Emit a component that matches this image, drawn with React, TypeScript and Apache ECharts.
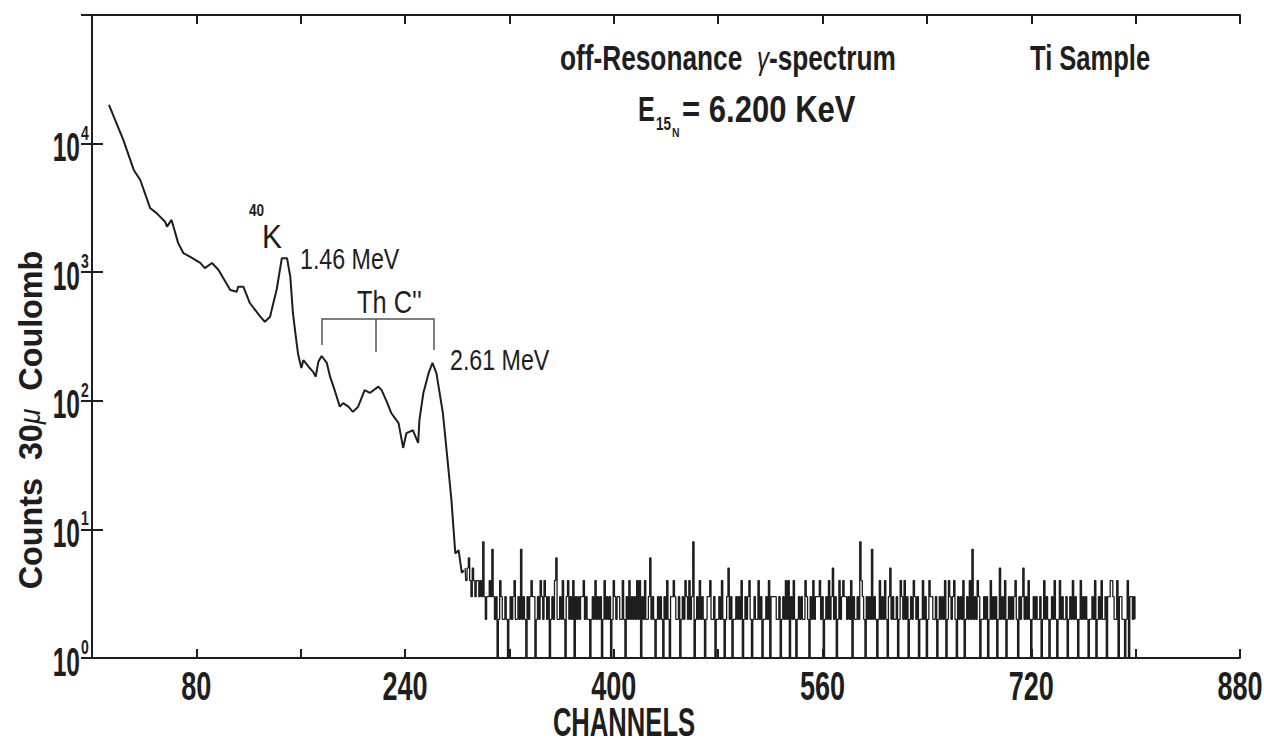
import React, { useEffect, useRef } from "react";
import * as echarts from "echarts";

// Smooth low-channel part of the spectrum (channel, counts)
const lowChannels = [
  13, 24, 32, 37, 44.5, 49.5, 56, 57.5, 61, 66, 70, 75, 83, 86.5, 92, 97, 106, 111, 112, 116,
  121, 129, 132.5, 136.5, 139, 141.5, 145.5, 149.5, 152, 154, 156, 158, 160.5, 162, 166, 169.5,
  171.5, 173.5, 176, 180, 182.5, 186, 190, 192.5, 196.5, 200, 204, 209, 213, 219.5, 222, 226,
  229.5, 235, 238.5, 241, 246, 250, 251, 254, 258, 261, 264, 269, 273, 275.5, 277, 278.5, 281,
  283.5, 285,
];
const lowCounts = [
  20000, 10700, 6240, 5210, 3160, 2880, 2470, 2260, 2550, 1690, 1410, 1320, 1180, 1075, 1180,
  1040, 727, 705, 771, 771, 576, 451, 412, 451, 576, 727, 1283, 1283, 923, 482, 330, 230, 180,
  207, 184, 168, 154, 201, 223, 197, 154, 121, 90, 96, 90, 82, 90, 121, 115, 129, 121, 98, 80,
  67, 43, 56, 59, 47, 71, 115, 164, 197, 164, 80, 31, 17, 10.5, 6.5, 6.9, 4.6, 4.8,
];

// Background region: one count per channel, channels 286 … 800
const noiseStartChannel = 286;
const noiseCountsText =
  "5456435434" + "4343832334" + "3732312432" + "2321232342" + "2327232132" +
  "3433123243" + "2432312324" + "6223242134" + "2324132323" + "3423221232" +
  "4232312423" + "2312432332" + "2421324232" + "3242413242" + "2362321232" +
  "3213242133" + "4322312324" + "3242381232" + "4232123342" + "2312232421" +
  "2352312232" + "3241232342" + "1232242312" + "2324133332" + "2312324241" +
  "3242123232" + "2432132423" + "3342312324" + "2352312423" + "4332324132" +
  "2328432132" + "3272321242" + "3242135232" + "2312432423" + "1232432312" +
  "2423124332" + "2312323241" + "2432342132" + "3241232427" + "2324312232" +
  "3124232312" + "5232412323" + "2342132352" + "3242123232" + "2312423212" +
  "3242124232" + "2312324232" + "1242323212" + "2324123242" + "2313344322" +
  "4133221241" + "33232";
const noiseCounts = noiseCountsText.split("").map(Number);

const xTickLabels = [80, 240, 400, 560, 720, 880];
const yTickExponents = [0, 1, 2, 3, 4];

const FONT = "'Liberation Sans', Arial, sans-serif";
const INK = "#1e1e1e";

export default function App() {
  const ref = useRef<HTMLDivElement>(null);
  useEffect(() => {
    if (!ref.current) return;
    const chart = echarts.init(ref.current, undefined, { renderer: "svg" });
    const lowData = lowChannels.map((c, i) => [c, lowCounts[i]]);
    const noiseData = noiseCounts.map((v, i) => [noiseStartChannel + i, v]);

    const tickStyle = { inside: true, length: 9, lineStyle: { color: INK, width: 2 } };
    const lineStyle = { show: true, lineStyle: { color: INK, width: 2 } };

    chart.setOption({
      animation: false,
      backgroundColor: "#ffffff",
      grid: { left: 92, right: 24, top: 15, bottom: 86, containLabel: false },
      xAxis: [
        {
          type: "value", min: 0, max: 880, interval: 80, position: "bottom",
          axisLine: lineStyle, axisTick: tickStyle, splitLine: { show: false },
          axisLabel: { show: false },
        },
        {
          type: "value", min: 0, max: 880, interval: 80, position: "top",
          axisLine: lineStyle, axisTick: tickStyle, splitLine: { show: false },
          axisLabel: { show: false },
        },
      ],
      yAxis: [
        {
          type: "log", logBase: 10, min: 1, max: 100000, position: "left",
          axisLine: lineStyle, axisTick: { ...tickStyle, length: 11 },
          splitLine: { show: false }, minorTick: { show: false },
          axisLabel: { show: false },
        },
        {
          type: "log", logBase: 10, min: 1, max: 100000, position: "right",
          axisLine: lineStyle, axisTick: { ...tickStyle, length: 11 },
          splitLine: { show: false }, axisLabel: { show: false },
        },
      ],
      series: [
        {
          name: "spectrum", type: "line", data: lowData, showSymbol: false,
          lineStyle: { color: INK, width: 2 }, xAxisIndex: 0, yAxisIndex: 0,
        },
        {
          name: "background", type: "line", step: "middle", data: noiseData, showSymbol: false,
          lineStyle: { color: INK, width: 1.3 }, xAxisIndex: 0, yAxisIndex: 0,
        },
      ],
    });

    const xp = (v: number) => chart.convertToPixel({ xAxisIndex: 0 }, v) as number;
    const yp = (v: number) => chart.convertToPixel({ yAxisIndex: 0 }, v) as number;

    const txt = (x: number, y: number, text: string, size: number, weight: string, extra: any = {}) => ({
      type: "text",
      x,
      y,
      scaleX: extra.scaleX ?? 1,
      rotation: extra.rotation ?? 0,
      style: {
        text,
        fill: INK,
        fontFamily: FONT,
        fontSize: size,
        fontWeight: weight,
        fontStyle: extra.fontStyle ?? "normal",
        lineHeight: extra.lineHeight,
        textAlign: extra.align ?? "left",
        textVerticalAlign: "middle",
        rich: extra.rich,
      },
    });

    const xLabels = xTickLabels.map((v) =>
      txt(xp(v), 686, String(v), 41, "bold", { align: "center", scaleX: 0.66, lineHeight: 32 })
    );
    const yLabels: any[] = [];
    yTickExponents.forEach((e) => {
      const py = yp(Math.pow(10, e));
      yLabels.push(txt(80, py + 3, "10", 41, "bold", { align: "right", scaleX: 0.6, lineHeight: 32 }));
      yLabels.push(txt(81, py - 11, String(e), 20, "bold", { align: "left", scaleX: 0.7 }));
    });

    chart.setOption({
      graphic: [
        ...xLabels,
        ...yLabels,
        txt(624, 722, "CHANNELS", 40, "bold", { align: "center", scaleX: 0.64, lineHeight: 30 }),
        txt(30, 420, "{a|Counts}  {a|30}{m|μ}  {a|Coulomb}", 34, "bold", {
          rotation: Math.PI / 2,
          align: "center",
          scaleX: 0.95,
          rich: {
            a: { fontFamily: FONT, fontSize: 34, fontWeight: "bold", fill: INK },
            m: { fontFamily: FONT, fontSize: 30, fontStyle: "italic", fill: INK },
          },
        }),
        txt(560, 58, "{a|off-Resonance}  {g|γ}{a|-spectrum}", 35, "bold", {
          scaleX: 0.75,
          rich: {
            a: { fontFamily: FONT, fontSize: 35, fontWeight: "bold", fill: INK },
            g: { fontFamily: FONT, fontSize: 32, fontStyle: "italic", fill: INK },
          },
        }),
        txt(1030, 57, "Ti Sample", 35, "bold", { scaleX: 0.73 }),
        txt(638, 109, "E", 36, "bold", { scaleX: 0.7 }),
        txt(656, 124, "15", 18, "bold", { scaleX: 0.75 }),
        txt(672, 132, "N", 13, "bold", { scaleX: 0.8 }),
        txt(682, 109, "= 6.200 KeV", 37, "bold", { scaleX: 0.84 }),
        txt(249, 211, "40", 16, "bold", { scaleX: 0.85 }),
        txt(262, 236, "K", 34, "normal", { scaleX: 0.88 }),
        txt(300, 259, "1.46 MeV", 29, "normal", { scaleX: 0.8 }),
        txt(357, 302, "Th C''", 31, "normal", { scaleX: 0.82 }),
        txt(450, 360, "2.61 MeV", 29, "normal", { scaleX: 0.8 }),
        {
          type: "polyline",
          shape: { points: [[322, 345], [322, 319], [434, 319], [434, 350]] },
          style: { stroke: "#555", lineWidth: 1.5, fill: null },
        },
        {
          type: "line",
          shape: { x1: 376, y1: 319, x2: 376, y2: 352 },
          style: { stroke: "#555", lineWidth: 1.5 },
        },
      ],
    });
    return () => chart.dispose();
  }, []);
  return (
    <div
      ref={ref}
      style={{ position: "fixed", left: 0, top: 0, width: 1264, height: 744, background: "#fff" }}
    />
  );
}
